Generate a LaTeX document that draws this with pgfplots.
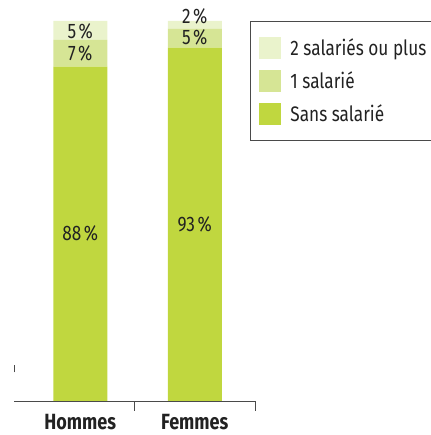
\documentclass[border=0pt]{standalone}
\usepackage{pgfplots}
\pgfplotsset{compat=1.18}
\usepackage{fontspec}
\setmainfont{Fira Sans}[FakeStretch=0.82]
\definecolor{cSans}{HTML}{C0D73F}
\definecolor{cUn}{HTML}{D6E595}
\definecolor{cDeux}{HTML}{EAF3CC}
\definecolor{axg}{HTML}{4A4A4A}
\definecolor{txt}{HTML}{222222}
\begin{document}
\begin{tikzpicture}[font=\fontsize{21}{23}\selectfont]
\path[use as bounding box] (-14pt,-34pt) rectangle (416pt,401pt);
\pgfplotsset{common/.style={
  scale only axis, width=241pt, height=380pt,
  xmin=0, xmax=2, ymin=0, ymax=100,
  axis y line=none, axis x line*=bottom,
  x axis line style={axg, line width=0.9pt, -},
  clip=false,
}}
\begin{axis}[common,
  ybar stacked, bar width=54pt,
  xtick={0.55,1.5}, xticklabels={\textbf{Hommes},\textbf{Femmes}},
  major tick length=0pt,
  xticklabel style={yshift=-10pt, text=txt, font=\fontsize{22}{24}\selectfont\bfseries},
  extra x ticks={1,2}, extra x tick labels={},
  extra x tick style={major tick length=10pt, tick style={axg, line width=0.9pt}, tick align=outside},
  legend style={at={(0.9793,1)}, anchor=north west, draw=axg, line width=0.8pt,
    inner xsep=9pt, inner ysep=15pt, row sep=11pt, text=txt,
    font=\fontsize{21}{23}\selectfont},
  legend cell align=left, reverse legend,
  legend image code/.code={\fill[#1] (0pt,-11pt) rectangle (22pt,11pt); \path (29pt,0pt);},
]
\addplot[fill=cSans, draw=none] coordinates {(0.55,88) (1.5,93)};
\addlegendentry{Sans salarié}
\addplot[fill=cUn, draw=none] coordinates {(0.55,7) (1.5,5)};
\addlegendentry{1 salarié}
\addplot[fill=cDeux, draw=none] coordinates {(0.55,5) (1.5,2)};
\addlegendentry{2 salariés ou plus\hspace{60pt}}
\draw[axg, line width=0.8pt] (axis cs:0,7.5) -- (axis cs:0,9.5);
\end{axis}
\begin{axis}[common, hide axis]
\addplot[only marks, mark=none, nodes near coords, point meta=explicit symbolic,
  every node near coord/.style={anchor=center, text=txt, font=\fontsize{21}{23}\selectfont}]
  table[meta=label] {
x y label
0.55 44 {88\kern2.5pt\%}
0.55 91.4 {7\kern2.5pt\%}
0.55 97.4 {5\kern2.5pt\%}
1.5 46.5 {93\kern2.5pt\%}
1.5 95.6 {5\kern2.5pt\%}
1.5 101.2 {2\kern2.5pt\%}
};
\end{axis}
\end{tikzpicture}
\end{document}
